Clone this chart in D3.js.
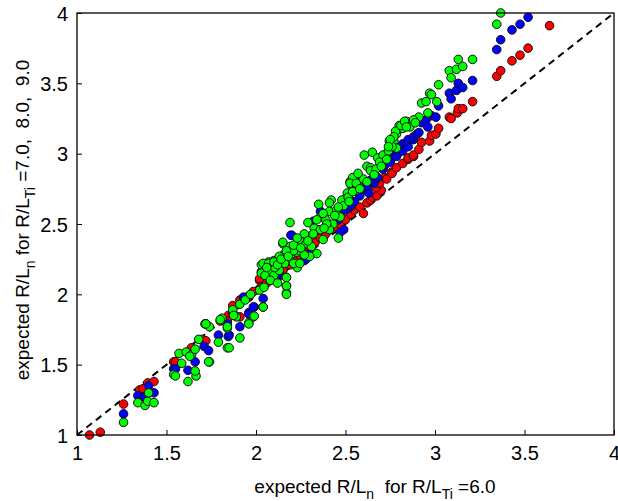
<!DOCTYPE html>
<html><head><meta charset="utf-8">
<script src="https://cdn.jsdelivr.net/npm/d3@7"></script>
<style>
html,body{margin:0;padding:0;background:#fff;}
svg text{font-family:"Liberation Sans",Arial,Helvetica,sans-serif;fill:#000;white-space:pre;}
</style></head>
<body><svg id="chart" width="618" height="501"></svg>
<script>
const xTicks = [1, 1.5, 2, 2.5, 3, 3.5, 4];
const xTickLabels = ["1", "1.5", "2", "2.5", "3", "3.5", "4"];
const yTicks = [1, 1.5, 2, 2.5, 3, 3.5, 4];
const yTickLabels = ["1", "1.5", "2", "2.5", "3", "3.5", "4"];
const seriesNames = ["R/LTi=7.0", "R/LTi=8.0", "R/LTi=9.0"];
const seriesColors = ["#ff0000", "#0000ff", "#00ff00"];

const red = [[1.07,1.00],[1.13,1.02],[1.26,1.22],[1.35,1.32],[1.37,1.33],[1.395,1.37],[1.43,1.38],[1.54,1.52],[1.55,1.52],[1.63,1.60],[1.64,1.62],[1.70,1.68],[1.72,1.67],[1.72,1.79],[1.80,1.81],[1.845,1.85],[1.84,1.81],[1.91,1.84],[1.96,1.98],[2.02,2.10],[2.02,2.04],[1.87,1.92],[1.91,1.96],[1.96,1.99],[1.985,2.02],[2.02,2.11],[2.03,2.05],[2.06,2.08],[2.08,2.10],[2.115,2.135],[2.12,2.14],[2.15,2.17],[2.19,2.21],[2.23,2.24],[2.25,2.27],[2.26,2.30],[2.30,2.34],[2.33,2.37],[2.36,2.40],[2.39,2.43],[2.41,2.46],[2.45,2.48],[2.47,2.50],[2.50,2.53],[2.53,2.57],[2.55,2.60],[2.58,2.62],[2.60,2.575],[2.62,2.65],[2.64,2.67],[2.65,2.69],[2.675,2.70],[2.70,2.74],[2.67,2.76],[2.69,2.79],[2.72,2.83],[2.73,2.82],[2.76,2.87],[2.76,2.86],[2.785,2.90],[2.82,2.93],[2.85,2.96],[2.85,2.97],[2.88,2.98],[2.88,2.99],[2.91,3.03],[2.925,3.08],[2.97,3.09],[2.98,3.13],[3.005,3.14],[3.02,3.18],[3.08,3.26],[3.09,3.25],[3.125,3.29],[3.13,3.32],[3.155,3.32],[3.21,3.37],[3.345,3.55],[3.367,3.59],[3.43,3.66],[3.475,3.70],[3.52,3.75],[3.64,3.91]];

const blue = [[1.26,1.15],[1.34,1.28],[1.38,1.27],[1.40,1.35],[1.43,1.30],[1.54,1.47],[1.55,1.47],[1.62,1.46],[1.66,1.52],[1.71,1.63],[1.735,1.60],[1.79,1.71],[1.84,1.79],[1.845,1.70],[1.85,1.71],[1.91,1.77],[1.96,1.87],[1.96,1.86],[1.99,1.91],[1.985,1.91],[2.04,1.97],[2.04,1.91],[2.03,2.16],[2.12,2.12],[2.13,2.15],[2.17,2.06],[2.13,2.21],[2.19,2.31],[2.20,2.42],[2.195,2.42],[2.36,2.59],[2.525,2.62],[2.49,2.46],[2.27,2.24],[2.32,2.52],[2.46,2.53],[2.47,2.44],[1.93,1.98],[1.87,1.87],[2.08,2.16],[2.115,2.10],[2.17,2.12],[2.23,2.21],[2.28,2.25],[2.31,2.30],[2.395,2.48],[2.47,2.575],[2.50,2.60],[2.53,2.63],[2.55,2.66],[2.58,2.70],[2.60,2.76],[2.62,2.74],[2.63,2.72],[2.66,2.79],[2.62,2.77],[2.64,2.81],[2.68,2.83],[2.71,2.89],[2.71,2.91],[2.72,2.92],[2.72,2.95],[2.74,2.98],[2.75,2.94],[2.78,3.00],[2.785,2.98],[2.795,3.04],[2.80,3.01],[2.82,3.02],[2.82,3.07],[2.84,3.07],[2.85,3.05],[2.85,3.10],[2.88,3.10],[2.88,3.12],[2.90,3.14],[2.91,3.15],[2.925,3.22],[2.95,3.24],[2.96,3.19],[2.98,3.27],[3.005,3.26],[3.02,3.34],[3.08,3.43],[3.09,3.39],[3.12,3.45],[3.13,3.50],[3.155,3.47],[3.21,3.52],[3.345,3.74],[3.367,3.81],[3.43,3.88],[3.475,3.92],[3.52,3.97]];

const green = [[1.26,1.09],[1.34,1.23],[1.38,1.21],[1.395,1.24],[1.40,1.30],[1.43,1.23],[1.54,1.43],[1.55,1.42],[1.57,1.58],[1.585,1.51],[1.62,1.38],[1.61,1.59],[1.64,1.57],[1.66,1.61],[1.665,1.42],[1.66,1.455],[1.63,1.56],[1.68,1.68],[1.715,1.79],[1.74,1.77],[1.74,1.52],[1.735,1.52],[1.79,1.66],[1.81,1.83],[1.84,1.62],[1.84,1.76],[1.72,1.79],[1.80,1.82],[1.84,1.77],[1.91,1.69],[1.87,1.89],[1.89,1.84],[1.96,1.80],[1.91,1.93],[1.94,1.96],[1.97,2.00],[1.985,1.84],[2.02,2.03],[2.045,2.05],[2.03,2.21],[2.07,2.23],[2.07,2.17],[2.03,2.15],[2.05,2.135],[2.10,2.135],[2.08,2.10],[2.12,2.08],[2.13,2.17],[2.17,2.12],[2.17,2.01],[2.105,2.19],[2.10,2.24],[2.15,2.36],[2.19,2.34],[2.20,2.29],[2.16,2.29],[2.23,2.30],[2.23,2.19],[2.19,2.24],[2.16,2.22],[2.21,2.22],[2.23,2.36],[2.19,2.51],[2.15,2.37],[2.29,2.51],[2.35,2.64],[2.36,2.55],[2.42,2.67],[2.41,2.65],[2.46,2.40],[2.39,2.53],[2.43,2.50],[2.47,2.55],[2.51,2.72],[2.50,2.68],[2.53,2.78],[2.55,2.83],[2.525,2.80],[2.56,2.74],[2.48,2.67],[2.30,2.41],[2.26,2.36],[2.245,2.31],[2.21,2.31],[2.34,2.29],[2.375,2.39],[2.41,2.46],[2.34,2.46],[2.30,2.27],[2.245,2.22],[2.04,2.22],[2.07,2.22],[2.17,2.06],[2.17,2.00],[2.04,1.91],[1.96,1.79],[1.99,1.845],[1.875,1.85],[1.85,1.62],[2.41,2.59],[2.45,2.60],[2.49,2.63],[2.515,2.69],[2.54,2.73],[2.57,2.78],[2.375,2.575],[2.34,2.53],[2.325,2.47],[2.36,2.46],[2.27,2.43],[2.245,2.38],[2.21,2.35],[2.17,2.31],[2.13,2.27],[2.10,2.23],[2.06,2.19],[2.28,2.36],[2.31,2.34],[2.395,2.50],[2.27,2.28],[2.23,2.40],[2.605,2.99],[2.65,3.01],[2.68,2.97],[2.71,2.99],[2.745,3.09],[2.77,3.09],[2.785,3.14],[2.80,3.20],[2.84,3.23],[2.82,3.18],[2.86,3.19],[2.89,3.23],[2.91,3.26],[2.785,3.04],[2.74,3.02],[2.76,3.05],[2.69,2.94],[2.62,2.91],[2.64,2.90],[2.54,2.83],[2.525,2.79],[2.56,2.79],[2.60,2.82],[2.64,2.88],[2.67,2.89],[2.57,2.86],[2.78,3.16],[2.77,3.12],[2.75,3.10],[2.74,3.05],[2.81,3.20],[2.83,3.23],[2.84,3.19],[2.88,3.24],[2.89,3.22],[2.925,3.36],[2.95,3.37],[2.96,3.29],[2.97,3.43],[2.98,3.42],[3.01,3.37],[3.02,3.49],[3.08,3.59],[3.09,3.54],[3.12,3.60],[3.13,3.67],[3.155,3.62],[3.21,3.67],[3.345,3.92],[3.367,4.00],[2.12,2.21],[2.14,2.25],[2.18,2.27],[2.25,2.33],[2.29,2.38],[2.32,2.43],[2.38,2.47],[2.44,2.56],[2.46,2.62],[2.52,2.66],[2.58,2.75],[2.62,2.80],[2.66,2.85],[2.70,2.91],[2.73,2.96]];

const diagonal = [[1, 1], [4, 4]];

const svg = d3.select("#chart");
const m = {left: 77, right: 4, top: 13, bottom: 66};
const W = 618, H = 501;
const x = d3.scaleLinear().domain([1, 4]).range([m.left, W - m.right]);
const y = d3.scaleLinear().domain([1, 4]).range([H - m.bottom, m.top]);

// diagonal dashed line
svg.append("path")
  .attr("d", d3.line().x(d => x(d[0])).y(d => y(d[1]))(diagonal))
  .attr("fill", "none").attr("stroke", "#000").attr("stroke-width", 2)
  .attr("stroke-dasharray", "7,5");

// points
[red, blue, green].forEach((s, i) => {
  svg.append("g").attr("class", "series-" + i)
    .selectAll("circle").data(s).join("circle")
    .attr("cx", d => x(d[0])).attr("cy", d => y(d[1]))
    .attr("r", 4.3)
    .attr("fill", seriesColors[i])
    .attr("stroke", "#111").attr("stroke-width", 1);
});

// axes
const xAxis = svg.append("g").attr("transform", `translate(0,${y(1)})`)
  .call(d3.axisBottom(x).tickValues(xTicks).tickFormat((d, i) => xTickLabels[i])
    .tickSizeInner(-5).tickSizeOuter(0).tickPadding(11));
const yAxis = svg.append("g").attr("transform", `translate(${x(1)},0)`)
  .call(d3.axisLeft(y).tickValues(yTicks).tickFormat((d, i) => yTickLabels[i])
    .tickSizeInner(-5).tickSizeOuter(0).tickPadding(9));
[xAxis, yAxis].forEach(a => {
  a.select(".domain").remove();
  a.selectAll("line").attr("stroke", "#000").attr("stroke-width", 1);
  a.selectAll("text").attr("font-size", 20).attr("font-family", "Liberation Sans, Arial, sans-serif");
});
yAxis.selectAll("text").attr("dy", "0.35em");

// frame
svg.append("rect").attr("x", x(1)).attr("y", y(4))
  .attr("width", x(4) - x(1)).attr("height", y(1) - y(4))
  .attr("fill", "none").attr("stroke", "#000").attr("stroke-width", 1.3);

// axis titles
const xt = svg.append("text").attr("x", 375).attr("y", 493)
  .attr("text-anchor", "middle").attr("font-size", 19);
xt.append("tspan").text("expected R/L");
xt.append("tspan").text("n").attr("font-size", 14).attr("dy", 6);
xt.append("tspan").text("  for R/L").attr("dy", -6);
xt.append("tspan").text("Ti").attr("font-size", 14).attr("dy", 6);
xt.append("tspan").text(" =6.0").attr("dy", -6);

const yt = svg.append("text")
  .attr("transform", `translate(29,220) rotate(-90)`)
  .attr("text-anchor", "middle").attr("font-size", 19);
yt.append("tspan").text("expected R/L");
yt.append("tspan").text("n").attr("font-size", 14).attr("dy", 6);
yt.append("tspan").text(" for R/L").attr("dy", -6);
yt.append("tspan").text("Ti").attr("font-size", 14).attr("dy", 6);
yt.append("tspan").text(" =7.0,  8.0,  9.0").attr("dy", -6);
</script></body></html>
